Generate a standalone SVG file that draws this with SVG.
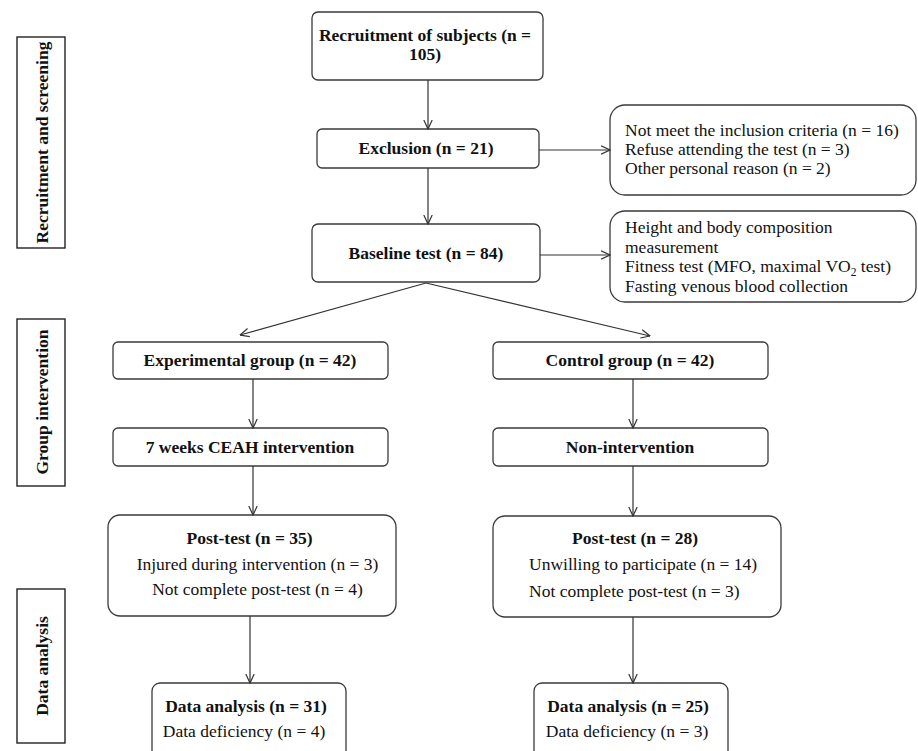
<svg xmlns="http://www.w3.org/2000/svg" width="918" height="751" viewBox="0 0 918 751">
<style>
  .box { fill: #ffffff; stroke: #3a3a3a; stroke-width: 1.3; }
  .lab { fill: #ffffff; stroke: #222222; stroke-width: 1.4; }
  .b { font-family: "Liberation Serif", "Times New Roman", serif; font-size: 17.5px; font-weight: bold; fill: #111111; }
  .r { font-family: "Liberation Serif", "Times New Roman", serif; font-size: 17.5px; fill: #111111; }
  .mid { text-anchor: middle; }
  .conn line { stroke: #333333; stroke-width: 1.2; fill: none; }
</style>
<defs>
  <marker id="arr" viewBox="0 0 10 10" refX="9.5" refY="5" markerWidth="10" markerHeight="10" markerUnits="userSpaceOnUse" orient="auto">
    <path d="M0.5,0.8 L9.5,5 L0.5,9.2" fill="none" stroke="#333333" stroke-width="1.2"/>
  </marker>
</defs>
<rect width="918" height="751" fill="#ffffff"/>

<g id="label-recruitment">
  <rect class="lab" x="17" y="37" width="48" height="211"/>
  <text class="b mid" transform="translate(47.5,142.5) rotate(-90)">Recruitment and screening</text>
</g>
<g id="label-group">
  <rect class="lab" x="17" y="319" width="48" height="167"/>
  <text class="b mid" transform="translate(47.5,402) rotate(-90)">Group intervention</text>
</g>
<g id="label-data">
  <rect class="lab" x="17" y="589" width="48" height="154"/>
  <text class="b mid" transform="translate(47.5,666) rotate(-90)">Data analysis</text>
</g>

<g id="recruitment">
  <rect class="box" x="312" y="12" width="231" height="68" rx="6"/>
  <text class="b mid" x="425" y="41">Recruitment of subjects (n =</text>
  <text class="b mid" x="425" y="60">105)</text>
</g>
<g id="exclusion">
  <rect class="box" x="317" y="129" width="222" height="39" rx="5"/>
  <text class="b mid" x="426" y="154">Exclusion (n = 21)</text>
</g>
<g id="exclusion-reasons">
  <rect class="box" x="610" y="105" width="306" height="90" rx="15"/>
  <text class="r" x="625" y="136">Not meet the inclusion criteria (n = 16)</text>
  <text class="r" x="625" y="155">Refuse attending the test (n = 3)</text>
  <text class="r" x="625" y="174">Other personal reason (n = 2)</text>
</g>
<g id="baseline">
  <rect class="box" x="312" y="224" width="228" height="58" rx="6"/>
  <text class="b mid" x="426" y="259">Baseline test (n = 84)</text>
</g>
<g id="baseline-items">
  <rect class="box" x="610" y="211" width="306" height="91" rx="15"/>
  <text class="r" x="625" y="233">Height and body composition</text>
  <text class="r" x="625" y="252.5">measurement</text>
  <text class="r" x="625" y="272">Fitness test (MFO, maximal VO<tspan font-size="11.5" dy="4">2</tspan><tspan dy="-4"> test)</tspan></text>
  <text class="r" x="625" y="291.5">Fasting venous blood collection</text>
</g>
<g id="experimental">
  <rect class="box" x="113" y="342" width="275" height="37" rx="5"/>
  <text class="b mid" x="250" y="366">Experimental group (n = 42)</text>
</g>
<g id="control">
  <rect class="box" x="493" y="342" width="275" height="37" rx="5"/>
  <text class="b mid" x="630" y="366">Control group (n = 42)</text>
</g>
<g id="ceah">
  <rect class="box" x="113" y="428" width="275" height="38" rx="5"/>
  <text class="b mid" x="250" y="453">7 weeks CEAH intervention</text>
</g>
<g id="non-intervention">
  <rect class="box" x="493" y="428" width="275" height="38" rx="5"/>
  <text class="b mid" x="630" y="453">Non-intervention</text>
</g>
<g id="post-exp">
  <rect class="box" x="108" y="515" width="288" height="101" rx="12"/>
  <text class="b mid" x="249.5" y="544">Post-test (n = 35)</text>
  <text class="r mid" x="257.5" y="570">Injured during intervention (n = 3)</text>
  <text class="r mid" x="257.5" y="595">Not complete post-test (n = 4)</text>
</g>
<g id="post-ctrl">
  <rect class="box" x="493" y="516" width="288" height="101" rx="12"/>
  <text class="b mid" x="635" y="544">Post-test (n = 28)</text>
  <text class="r" x="529" y="570">Unwilling to participate (n = 14)</text>
  <text class="r" x="529" y="597">Not complete post-test (n = 3)</text>
</g>
<g id="data-exp">
  <rect class="box" x="152" y="683" width="194" height="80" rx="8"/>
  <text class="b mid" x="246" y="712">Data analysis (n = 31)</text>
  <text class="r mid" x="244" y="737">Data deficiency (n = 4)</text>
</g>
<g id="data-ctrl">
  <rect class="box" x="534" y="683" width="194" height="80" rx="8"/>
  <text class="b mid" x="628" y="712">Data analysis (n = 25)</text>
  <text class="r mid" x="627" y="737">Data deficiency (n = 3)</text>
</g>

<g id="connectors" class="conn">
  <line x1="428" y1="80" x2="428" y2="129" marker-end="url(#arr)"/>
  <line x1="428" y1="168" x2="428" y2="224" marker-end="url(#arr)"/>
  <line x1="539" y1="150" x2="610" y2="150" marker-end="url(#arr)"/>
  <line x1="540" y1="255" x2="610" y2="255" marker-end="url(#arr)"/>
  <line x1="426" y1="283" x2="240" y2="335" marker-end="url(#arr)"/>
  <line x1="426" y1="283" x2="650" y2="336" marker-end="url(#arr)"/>
  <line x1="253" y1="379" x2="253" y2="428" marker-end="url(#arr)"/>
  <line x1="253" y1="466" x2="253" y2="515" marker-end="url(#arr)"/>
  <line x1="250" y1="616" x2="250" y2="683" marker-end="url(#arr)"/>
  <line x1="633" y1="379" x2="633" y2="428" marker-end="url(#arr)"/>
  <line x1="633" y1="466" x2="633" y2="516" marker-end="url(#arr)"/>
  <line x1="633" y1="617" x2="633" y2="683" marker-end="url(#arr)"/>
</g>
</svg>
